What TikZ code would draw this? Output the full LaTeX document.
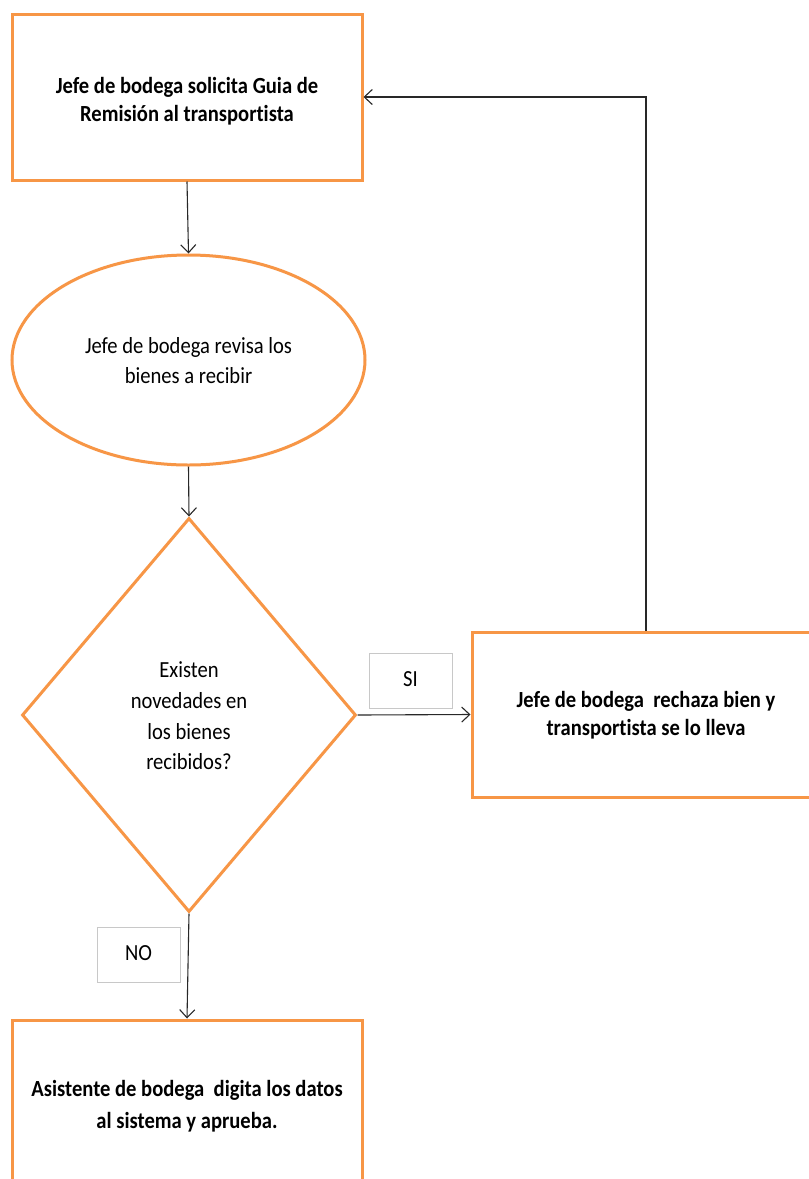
\documentclass[tikz,border=0pt]{standalone}
\usepackage{graphicx}
\usepackage{fontspec}
\setmainfont{Carlito}[Ligatures={NoCommon}]
\usetikzlibrary{shapes.geometric,arrows.meta}
\definecolor{boxorange}{RGB}{247,150,70}
\definecolor{labelgray}{RGB}{200,200,200}
\definecolor{arrowgray}{RGB}{40,40,40}
% #1 = baselineskip (before vertical stretch), #2 = lines
\newcommand{\vtext}[2]{\scalebox{1}[1.12]{\fontsize{20.6}{#1}\selectfont\begin{tabular}{@{}c@{}}#2\end{tabular}}}
% pad the top of a box by #1, which moves the centred text down by #1/2
\newcommand{\padtop}[2]{\raisebox{0pt}[\dimexpr\height+#1\relax][\depth]{#2}}
\tikzset{
  procbox/.style={draw=boxorange, line width=3pt, rectangle, fill=white, inner sep=0pt},
  ellbox/.style={draw=boxorange, line width=3pt, ellipse, fill=white, inner sep=0pt},
  decbox/.style={draw=boxorange, line width=3pt, diamond, fill=white, inner sep=0pt},
  lblbox/.style={draw=labelgray, line width=0.8pt, rectangle, fill=white, minimum width=83pt, minimum height=55pt, inner sep=0pt},
  flow/.style={draw=arrowgray, line width=1.1pt, -{Straight Barb[length=8pt,width=15pt]}}
}
\begin{document}
\begin{tikzpicture}[x=1pt,y=-1pt]
\useasboundingbox (0,0) rectangle (809,1179);
\fill[white] (0,0) rectangle (809,1179);
\node[procbox, minimum width=350pt, minimum height=166pt] (top) at (187,97)
  {\padtop{9pt}{\vtext{25}{\textbf{Jefe de bodega solicita Guia de}\\\textbf{Remisión al transportista}}}};
\node[ellbox, minimum width=353pt, minimum height=210pt] (ell) at (188.5,360)
  {\padtop{4pt}{\vtext{26.8}{Jefe de bodega revisa los\\bienes a recibir}}};
\node[decbox, minimum width=334pt, minimum height=394pt] (dia) at (189,715)
  {\padtop{5pt}{\vtext{27.5}{Existen\\novedades en\\los bienes\\recibidos?}}};
\node[procbox, minimum width=348pt, minimum height=165pt] (rej) at (646,714.5)
  {\padtop{3pt}{\vtext{25}{\textbf{Jefe de bodega\ \ rechaza bien y}\\\textbf{transportista se lo lleva}}}};
\node[procbox, minimum width=350pt, minimum height=172pt] (bot) at (187,1106)
  {\vtext{28.5}{\textbf{Asistente de bodega\ \ digita los datos}\\\textbf{al sistema y aprueba.}}};
\node[lblbox] (si) at (410.5,680.5) {\vtext{25}{SI}};
\node[lblbox] (no) at (138.5,954.5) {\vtext{25}{NO}};
\draw[flow] (top.south) -- (ell.north);
\draw[flow] (ell.south) -- (dia.north);
\draw[flow] (dia.east) -- (rej.west);
\draw[flow] (rej.north) -- (rej.north |- top.east) -- (top.east);
\draw[flow] (dia.south) -- (bot.north);
\end{tikzpicture}
\end{document}
